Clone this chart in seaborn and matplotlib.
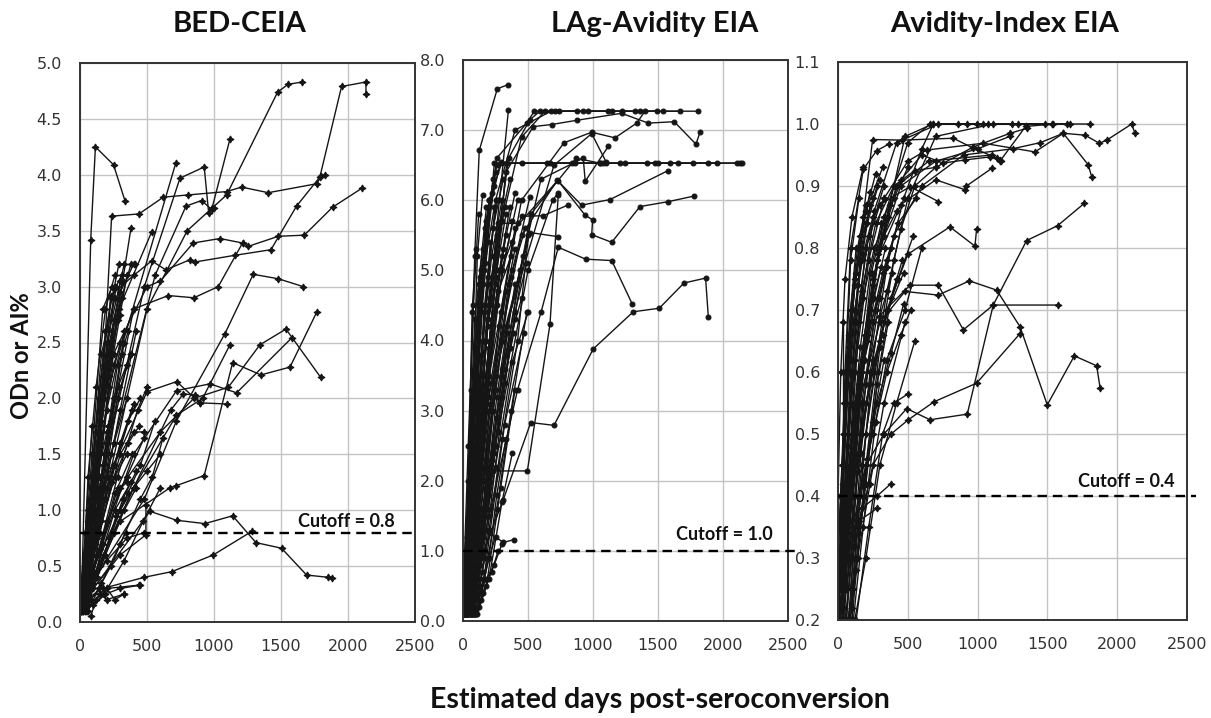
import matplotlib
matplotlib.use("Agg")
import pandas as pd
import matplotlib.pyplot as plt
import seaborn as sns
from matplotlib.ticker import MultipleLocator, FormatStrFormatter

# BED-CEIA: ODn per subject, (days post-seroconversion, value)
bed_curves = [
    [(10, 0.15), (80, 3.42), (115, 4.25), (250, 4.09), (335, 3.77)],
    [(20, 0.2), (130, 1.2), (236, 3.63), (440, 3.65), (622, 3.80), (808, 3.82), (1094, 3.85),
     (1206, 3.89), (1405, 3.84), (1766, 3.92), (1800, 3.99), (1830, 4.0)],
    [(30, 0.2), (200, 1.5), (480, 3.0), (746, 3.97), (927, 4.07), (960, 3.66), (985, 3.70), (1119, 4.32)],
    [(15, 0.2), (150, 1.0), (320, 2.5), (716, 4.11)],
    [(40, 0.3), (250, 1.6), (560, 3.1), (791, 3.72), (908, 3.77), (982, 3.69), (1000, 3.70)],
    [(30, 0.2), (200, 1.2), (500, 2.8), (800, 3.5), (1094, 3.82), (1475, 4.74), (1554, 4.81), (1659, 4.83)],
    [(25, 0.2), (140, 1.3), (229, 2.92), (400, 3.1), (535, 3.23), (640, 3.15), (820, 3.24), (858, 3.22),
     (1156, 3.28), (1425, 3.33), (1616, 3.72), (1790, 3.98), (1952, 4.79), (2134, 4.83), (2134, 4.72)],
    [(20, 0.2), (250, 2.4), (500, 3.0), (600, 3.05), (845, 3.39), (1044, 3.43), (1213, 3.39),
     (1256, 3.36), (1480, 3.45), (1674, 3.46), (1885, 3.71), (2104, 3.88)],
    [(40, 0.3), (200, 1.6), (400, 2.8), (659, 2.92), (850, 2.90), (1032, 3.0), (1213, 3.39)],
    [(60, 0.3), (480, 1.1), (720, 1.8), (1082, 2.58), (1293, 3.11), (1480, 3.07), (1666, 3.0)],
    [(20, 0.2), (180, 2.0), (380, 3.52)],
    [(30, 0.3), (160, 1.8), (290, 2.8), (535, 3.49)],
    [(30, 0.2), (300, 0.9), (671, 1.2), (720, 1.22), (927, 1.31), (1139, 2.32), (1350, 2.21),
     (1567, 2.28), (1766, 2.77)],
    [(40, 0.3), (300, 1.2), (600, 1.7), (850, 2.0), (1107, 2.10), (1343, 2.48), (1537, 2.62), (1795, 2.19)],
    [(50, 0.3), (400, 1.5), (721, 2.07), (970, 2.13), (1169, 2.05), (1579, 2.54)],
    [(20, 0.2), (250, 1.4), (500, 2.06), (721, 2.15), (895, 1.96), (1099, 1.95)],
    [(30, 0.3), (300, 1.0), (720, 1.85), (915, 2.0), (1119, 2.48)],
    [(40, 0.25), (400, 1.2), (680, 1.9), (771, 2.04), (858, 2.03), (895, 1.96)],
    [(100, 0.3), (522, 0.99), (721, 0.91), (932, 0.88), (1139, 0.95), (1313, 0.71), (1504, 0.66),
     (1691, 0.42), (1850, 0.40), (1880, 0.39)],
    [(40, 0.2), (170, 0.3), (480, 0.4), (684, 0.45), (995, 0.6), (1281, 0.81)],
    [(60, 0.2), (200, 0.3), (444, 0.33)],
    [(40, 0.1), (150, 0.25), (200, 0.2), (330, 0.25)],
    [(30, 0.2), (300, 0.6), (492, 0.78), (492, 1.05)],
    [(0, 0.1), (60, 0.4), (200, 2.5), (330, 3.2)],
    [(10, 0.15), (70, 0.6), (180, 2.0), (300, 3.05)],
    [(20, 0.1), (90, 0.8), (220, 2.2), (350, 3.1)],
    [(5, 0.2), (50, 0.5), (150, 1.7), (280, 2.7)],
    [(15, 0.1), (100, 1.1), (240, 2.6), (380, 3.2), (410, 3.2)],
    [(0, 0.15), (80, 1.2), (160, 2.4), (260, 2.9)],
    [(30, 0.2), (120, 1.3), (250, 2.3), (400, 2.8)],
    [(10, 0.1), (60, 0.3), (170, 1.4), (310, 2.4)],
    [(25, 0.12), (110, 0.7), (230, 1.8), (330, 2.5)],
    [(0, 0.2), (40, 0.8), (90, 1.75), (210, 1.75)],
    [(40, 0.1), (140, 0.9), (300, 1.9), (420, 2.6)],
    [(20, 0.2), (90, 0.5), (200, 1.2), (360, 1.8), (450, 2.0)],
    [(10, 0.1), (130, 0.6), (280, 1.3), (430, 1.9), (500, 2.1)],
    [(50, 0.15), (150, 0.5), (300, 1.0), (450, 1.4), (560, 1.8)],
    [(0, 0.1), (70, 0.3), (200, 0.9), (350, 1.3), (480, 1.65)],
    [(30, 0.2), (100, 0.4), (250, 0.8), (400, 1.2), (500, 1.35), (600, 1.5)],
    [(60, 0.1), (160, 0.35), (300, 0.7), (450, 1.1), (540, 1.3), (620, 1.65)],
    [(15, 0.25), (120, 0.45), (260, 1.0), (380, 1.25)],
    [(45, 0.1), (180, 0.25), (330, 0.55), (470, 0.9), (600, 1.2)],
    [(0, 0.12), (50, 0.25), (150, 0.65), (260, 1.15), (350, 1.25)],
    [(70, 0.2), (190, 0.6), (330, 1.0), (420, 1.2)],
    [(20, 0.1), (140, 0.3), (230, 0.5), (340, 0.8)],
    [(80, 0.05), (120, 0.2), (200, 0.3), (260, 0.2), (330, 0.25)],
    [(100, 0.15), (190, 0.25), (300, 0.3), (450, 0.33)],
    [(10, 0.3), (60, 1.0), (130, 1.3), (250, 1.4)],
    [(0, 0.1), (90, 1.5), (170, 2.8), (240, 3.0)],
    [(35, 0.2), (150, 1.9), (260, 3.0)],
    [(5, 0.1), (110, 1.0), (280, 2.0), (380, 2.4)],
    [(40, 0.2), (100, 0.6), (300, 1.5), (400, 1.7), (480, 1.7)],
    [(60, 0.3), (200, 0.55), (350, 0.75), (480, 0.8)],
    [(0, 0.1), (50, 0.6), (140, 2.0), (230, 2.9), (310, 3.1)],
    [(10, 0.2), (80, 1.0), (170, 2.2), (270, 3.0)],
    [(20, 0.15), (100, 1.5), (190, 2.6), (290, 3.2)],
    [(5, 0.3), (70, 0.9), (150, 1.9), (250, 2.7), (320, 3.05)],
    [(40, 0.2), (120, 1.4), (210, 2.3), (310, 2.9)],
    [(0, 0.2), (60, 0.9), (130, 1.6), (210, 2.4), (300, 2.75)],
    [(15, 0.1), (90, 0.7), (180, 1.5), (280, 2.3), (360, 2.6)],
    [(30, 0.3), (110, 1.0), (200, 1.9), (330, 2.6)],
    [(50, 0.2), (140, 1.1), (250, 2.0), (380, 2.4)],
    [(0, 0.15), (40, 0.5), (110, 1.2), (200, 1.7), (290, 2.1)],
    [(25, 0.1), (120, 0.9), (230, 1.5), (350, 2.0)],
    [(60, 0.15), (150, 0.8), (260, 1.4), (390, 1.9)],
    [(10, 0.2), (90, 0.6), (190, 1.1), (300, 1.6), (400, 1.95)],
    [(35, 0.25), (130, 0.75), (240, 1.25), (360, 1.6), (440, 1.75)],
    [(70, 0.2), (170, 0.7), (280, 1.2), (390, 1.5)],
    [(5, 0.1), (80, 0.45), (160, 0.9), (260, 1.3), (350, 1.5)],
    [(45, 0.15), (130, 0.4), (220, 0.75), (320, 1.1), (420, 1.35)],
    [(20, 0.3), (60, 1.3), (120, 2.1), (190, 2.8), (260, 3.1)],
    [(0, 0.1), (30, 0.35), (70, 1.0), (120, 1.7), (180, 2.3)],
    [(55, 0.1), (100, 0.8), (160, 1.6), (220, 2.1), (300, 2.5)],
    [(15, 0.2), (140, 1.7), (220, 2.5), (300, 2.95), (400, 3.2)],
    [(80, 0.2), (180, 1.2), (280, 2.0), (350, 2.3)],
    [(30, 0.15), (90, 0.35), (180, 0.6), (270, 0.95), (360, 1.15)],
    [(0, 0.25), (120, 1.1), (200, 1.3), (290, 1.5)],
]

# LAg-Avidity EIA: ODn per subject
lag_curves = [
    [(20, 0.3), (60, 3.3), (90, 5.2), (125, 6.71), (264, 7.59), (349, 7.65)],
    [(30, 0.2), (150, 3.5), (280, 6.0), (349, 7.28)],
    [(20, 0.2), (80, 2.5), (150, 5.0), (260, 6.6), (490, 7.1), (548, 7.27), (738, 7.27), (874, 7.27),
     (1220, 7.27), (1540, 7.27), (1810, 7.27)],
    [(30, 0.2), (100, 2.0), (200, 4.5), (350, 6.6), (515, 7.15), (592, 7.27), (925, 7.27), (1144, 7.27),
     (1361, 7.27), (1669, 7.27)],
    [(40, 0.3), (150, 3.0), (300, 5.7), (450, 6.9), (631, 7.27), (964, 7.27), (1323, 7.27), (1489, 7.27)],
    [(25, 0.2), (120, 3.3), (250, 6.0), (400, 7.0), (677, 7.27), (708, 7.27), (1118, 7.27)],
    [(20, 0.2), (60, 2.0), (150, 4.5), (241, 6.53), (451, 6.53), (836, 6.53), (1079, 6.53), (1413, 6.53),
     (1656, 6.53), (1887, 6.53), (2130, 6.53)],
    [(30, 0.3), (100, 3.5), (200, 6.0), (297, 6.53), (644, 6.53), (861, 6.53), (1100, 6.53), (1476, 6.53),
     (1771, 6.53), (2105, 6.53), (2143, 6.53)],
    [(40, 0.2), (150, 3.0), (336, 6.53), (669, 6.53), (1053, 6.53), (1207, 6.53), (1246, 6.53),
     (1502, 6.53), (1592, 6.53), (1951, 6.53)],
    [(25, 0.2), (150, 3.0), (330, 6.4), (540, 7.05), (682, 7.08), (874, 7.14), (1220, 7.24), (1425, 7.1),
     (1625, 7.12), (1792, 6.80), (1823, 6.97)],
    [(40, 0.2), (200, 3.5), (450, 6.0), (777, 6.82), (990, 6.97), (1169, 6.89), (1336, 7.1), (1400, 7.27)],
    [(60, 0.3), (250, 3.5), (600, 6.3), (925, 6.60), (940, 6.27), (1118, 6.77)],
    [(50, 0.3), (300, 4.0), (700, 6.5), (990, 6.95), (1100, 6.55)],
    [(30, 0.2), (180, 3.0), (400, 5.6), (728, 6.28), (912, 5.93), (1131, 6.01), (1574, 6.42)],
    [(40, 0.3), (200, 3.2), (450, 5.5), (726, 6.29), (938, 5.79), (997, 5.72), (990, 5.51), (1144, 5.40),
     (1361, 5.91), (1579, 5.98), (1777, 6.06)],
    [(50, 0.2), (160, 1.0), (310, 1.73), (521, 2.83), (700, 2.79), (1002, 3.88), (1310, 4.41),
     (1510, 4.46), (1700, 4.82), (1866, 4.89), (1887, 4.34)],
    [(40, 0.2), (200, 1.5), (420, 3.3), (600, 4.4), (733, 5.33), (943, 5.16), (1144, 5.14), (1302, 4.52)],
    [(30, 0.2), (150, 2.0), (300, 4.0), (515, 5.54), (733, 5.48)],
    [(20, 0.1), (100, 2.0), (200, 4.5), (270, 5.67), (423, 5.67)],
    [(30, 0.2), (120, 2.5), (250, 4.8), (451, 5.77), (618, 5.78), (805, 5.93)],
    [(40, 0.2), (120, 1.2), (233, 2.14), (495, 2.14), (669, 4.23), (733, 6.08)],
    [(30, 0.1), (100, 0.6), (208, 1.25), (310, 1.12), (392, 1.16)],
    [(50, 0.2), (250, 2.5), (500, 5.0), (690, 6.0), (730, 6.1)],
    [(60, 0.3), (300, 3.5), (520, 5.8), (870, 6.6), (1050, 6.53)],
    [(20, 0.2), (200, 3.0), (380, 5.0), (515, 6.05)],
    [(10, 0.1), (60, 1.5), (120, 4.5), (200, 6.0)],
    [(20, 0.2), (80, 2.0), (160, 5.0), (250, 6.4)],
    [(0, 0.15), (50, 1.0), (100, 3.5), (180, 5.5)],
    [(30, 0.1), (90, 2.5), (150, 4.8), (230, 6.3)],
    [(15, 0.2), (70, 1.2), (140, 3.8), (220, 5.2), (300, 6.0)],
    [(40, 0.1), (100, 1.8), (180, 4.0), (280, 5.6)],
    [(5, 0.1), (60, 0.8), (130, 3.0), (210, 4.6), (320, 5.9)],
    [(25, 0.2), (80, 0.5), (150, 2.6), (260, 4.5), (380, 5.7)],
    [(50, 0.1), (110, 1.2), (200, 3.4), (300, 5.0), (420, 6.0)],
    [(10, 0.3), (70, 0.6), (160, 2.2), (280, 4.2), (400, 5.3)],
    [(60, 0.1), (130, 1.0), (230, 3.0), (350, 4.8), (480, 5.6)],
    [(80, 0.1), (150, 1.5), (250, 3.3), (370, 4.9)],
    [(20, 0.1), (90, 0.4), (200, 1.8), (320, 3.6), (460, 5.2)],
    [(40, 0.2), (120, 0.6), (240, 2.4), (360, 3.9), (500, 5.5)],
    [(90, 0.2), (170, 0.9), (300, 2.6), (420, 4.0), (520, 5.8)],
    [(70, 0.15), (160, 0.6), (260, 1.6), (370, 3.0), (490, 4.4)],
    [(100, 0.1), (200, 0.6), (300, 1.7), (380, 2.4)],
    [(30, 0.1), (100, 0.3), (180, 0.6), (240, 0.8), (300, 1.1)],
    [(60, 0.2), (150, 0.4), (220, 0.7), (270, 1.0)],
    [(0, 0.2), (40, 2.0), (90, 4.3), (150, 5.3)],
    [(10, 0.1), (40, 1.4), (80, 3.3), (110, 5.2), (151, 6.08)],
    [(5, 0.2), (30, 1.0), (70, 4.4), (100, 5.3)],
    [(20, 0.1), (100, 1.0), (200, 2.2), (330, 3.8), (450, 4.6)],
    [(50, 0.2), (140, 1.3), (260, 2.9), (390, 4.1)],
    [(0, 0.1), (60, 2.7), (130, 4.9), (240, 6.2)],
    [(15, 0.1), (80, 3.0), (170, 5.6), (290, 6.55)],
    [(35, 0.2), (90, 1.0), (200, 3.9), (310, 5.3), (400, 6.1)],
    [(75, 0.1), (140, 0.3), (210, 1.3), (320, 2.8), (470, 4.1)],
    [(110, 0.1), (180, 0.5), (290, 1.9), (400, 3.3)],
    [(45, 0.15), (110, 2.0), (180, 3.2), (270, 4.7), (370, 5.2)],
    [(0, 0.1), (25, 0.5), (60, 1.6), (90, 3.3)],
    [(60, 0.1), (90, 0.1), (120, 0.2)],
    [(90, 0.1), (120, 0.3), (160, 0.6), (200, 0.9), (250, 1.2)],
    [(30, 0.3), (150, 1.2), (250, 2.2), (380, 3.7), (500, 4.4)],
    [(10, 0.2), (100, 0.8), (200, 2.0), (300, 3.2), (400, 4.4), (490, 5.1)],
    [(0, 0.1), (30, 1.2), (70, 3.0), (120, 4.8), (180, 5.9)],
    [(20, 0.15), (60, 1.8), (110, 3.8), (170, 5.1), (240, 5.9)],
    [(10, 0.2), (50, 0.6), (100, 2.4), (150, 4.0), (210, 5.4)],
    [(40, 0.1), (80, 1.1), (130, 2.9), (190, 4.3), (260, 5.5)],
    [(0, 0.3), (40, 2.5), (80, 4.5), (120, 5.8)],
    [(30, 0.2), (70, 0.9), (120, 2.0), (180, 3.5), (250, 4.9), (330, 5.8)],
    [(60, 0.2), (100, 1.4), (150, 2.8), (220, 4.1), (300, 5.2)],
    [(15, 0.1), (55, 0.4), (110, 1.5), (170, 3.0), (240, 4.4), (330, 5.5)],
    [(50, 0.15), (90, 0.5), (140, 1.6), (210, 3.1), (290, 4.4), (380, 5.4)],
    [(70, 0.1), (110, 0.6), (170, 1.9), (240, 3.4), (330, 4.7)],
    [(5, 0.2), (45, 1.6), (95, 3.6), (150, 5.0), (220, 6.1)],
    [(25, 0.1), (75, 1.4), (125, 3.2), (190, 4.9), (260, 6.0)],
    [(35, 0.15), (85, 0.8), (140, 2.2), (200, 3.7), (280, 5.0), (360, 5.9)],
    [(80, 0.2), (130, 0.8), (190, 2.0), (260, 3.2), (340, 4.2), (440, 5.0)],
    [(0, 0.1), (20, 0.8), (50, 2.3), (90, 3.9), (140, 5.0)],
    [(45, 0.1), (95, 0.3), (150, 1.0), (220, 2.3), (300, 3.6), (400, 4.8)],
    [(100, 0.15), (150, 0.7), (210, 1.6), (280, 2.7), (360, 3.9)],
    [(10, 0.15), (65, 2.2), (115, 4.1), (175, 5.7), (260, 6.5)],
    [(55, 0.2), (105, 2.6), (160, 4.4), (230, 5.6), (310, 6.3)],
    [(20, 0.3), (80, 1.7), (140, 3.5), (210, 4.8), (290, 5.7), (360, 6.3)],
    [(65, 0.1), (120, 0.5), (180, 1.3), (250, 2.5), (320, 3.4), (400, 4.3)],
    [(0, 0.2), (35, 0.6), (80, 1.9), (130, 3.1), (190, 4.2), (260, 5.0)],
    [(30, 0.1), (70, 0.3), (130, 0.9), (190, 1.8), (260, 2.9), (340, 4.1)],
    [(85, 0.1), (140, 0.4), (200, 0.9), (260, 1.8), (330, 2.6)],
]

# Avidity-Index EIA: AI per subject
ai_curves = [
    [(0, 0.2), (40, 0.5), (90, 0.78), (150, 0.88)],
    [(10, 0.25), (50, 0.6), (90, 0.8), (181, 0.927), (277, 0.957), (368, 0.968)],
    [(5, 0.2), (60, 0.55), (120, 0.75), (200, 0.86), (320, 0.93)],
    [(20, 0.3), (70, 0.5), (130, 0.68), (220, 0.82), (330, 0.9)],
    [(0, 0.3), (30, 0.45), (80, 0.66), (150, 0.8), (250, 0.88)],
    [(40, 0.2), (90, 0.4), (150, 0.6), (250, 0.75), (360, 0.85)],
    [(60, 0.2), (110, 0.35), (170, 0.55), (270, 0.7), (380, 0.8)],
    [(80, 0.2), (120, 0.3), (200, 0.5), (300, 0.65), (420, 0.75)],
    [(30, 0.2), (100, 0.45), (180, 0.62), (280, 0.78), (480, 0.98), (680, 1.0), (922, 1.0), (1244, 1.0)],
    [(50, 0.25), (130, 0.5), (230, 0.7), (330, 0.85), (500, 0.97), (659, 1.0), (862, 1.0), (1041, 1.0),
     (1483, 1.0)],
    [(15, 0.2), (70, 0.4), (150, 0.68), (260, 0.86), (420, 0.97), (718, 1.0), (1077, 1.0), (1531, 1.0),
     (1805, 1.0)],
    [(90, 0.2), (160, 0.4), (250, 0.62), (350, 0.77), (470, 0.88), (600, 0.96), (683, 1.0), (993, 1.0),
     (1292, 1.0), (1638, 1.0)],
    [(100, 0.2), (200, 0.45), (300, 0.64), (400, 0.78), (500, 0.88), (700, 0.98), (1112, 1.0), (1662, 1.0)],
    [(0, 0.4), (20, 0.6), (50, 0.75), (100, 0.85), (180, 0.93)],
    [(110, 0.2), (180, 0.35), (270, 0.52), (350, 0.62), (480, 0.7), (600, 0.8)],
    [(120, 0.2), (200, 0.3), (300, 0.45), (420, 0.55), (550, 0.65)],
    [(70, 0.2), (140, 0.3), (230, 0.42), (330, 0.55), (480, 0.68)],
    [(50, 0.2), (100, 0.3), (170, 0.38), (280, 0.4), (380, 0.42)],
    [(0, 0.2), (60, 0.3), (150, 0.36), (280, 0.38)],
    [(38, 0.2), (38, 0.68)],
    [(20, 0.22), (100, 0.4), (200, 0.65), (300, 0.8), (400, 0.88), (500, 0.93)],
    [(60, 0.3), (140, 0.55), (240, 0.76), (330, 0.85), (450, 0.91), (600, 0.95), (754, 0.937),
     (910, 0.942), (1089, 0.947), (1160, 0.942)],
    [(25, 0.3), (90, 0.55), (170, 0.73), (270, 0.84), (400, 0.9), (550, 0.925), (700, 0.93),
     (969, 0.963), (1232, 0.985), (1351, 0.993)],
    [(40, 0.3), (120, 0.6), (220, 0.78), (330, 0.88), (500, 0.94), (635, 0.958), (1041, 0.969),
     (1411, 0.955), (1614, 0.985), (1769, 0.982), (1872, 0.969), (1925, 0.974), (2104, 1.0), (2127, 0.985)],
    [(80, 0.3), (180, 0.55), (300, 0.72), (400, 0.82), (600, 0.9), (900, 0.95), (1250, 0.96),
     (1450, 0.97), (1614, 0.985), (1793, 0.934), (1817, 0.915)],
    [(20, 0.25), (100, 0.6), (180, 0.85), (248, 0.975), (456, 0.974), (826, 0.977), (969, 0.961),
     (1140, 0.945), (1170, 0.94)],
    [(60, 0.3), (200, 0.45), (330, 0.5), (492, 0.541), (659, 0.523), (926, 0.532), (1112, 0.708),
     (1351, 0.812), (1573, 0.836), (1764, 0.872)],
    [(100, 0.3), (250, 0.45), (380, 0.5), (504, 0.523), (688, 0.552), (993, 0.582), (1304, 0.662)],
    [(50, 0.3), (150, 0.55), (300, 0.68), (480, 0.73), (718, 0.724), (941, 0.747), (1137, 0.732),
     (1304, 0.673), (1499, 0.547), (1693, 0.626), (1853, 0.61), (1877, 0.575)],
    [(30, 0.3), (120, 0.55), (250, 0.68), (516, 0.74), (718, 0.74), (898, 0.668), (1112, 0.708),
     (1578, 0.708)],
    [(70, 0.3), (200, 0.55), (350, 0.7), (500, 0.79), (802, 0.834), (981, 0.803), (993, 0.831)],
    [(40, 0.3), (150, 0.6), (280, 0.78), (450, 0.87), (700, 0.91), (910, 0.894), (920, 0.9), (1105, 0.929)],
    [(20, 0.3), (100, 0.6), (200, 0.8), (300, 0.87), (516, 0.899), (718, 0.875)],
    [(10, 0.2), (50, 0.35), (100, 0.6), (160, 0.78), (230, 0.87)],
    [(130, 0.2), (220, 0.35), (320, 0.5), (400, 0.55), (504, 0.565)],
    [(60, 0.3), (170, 0.6), (300, 0.8), (450, 0.9), (700, 0.94), (1000, 0.96), (1232, 0.98)],
    [(50, 0.25), (160, 0.58), (290, 0.8), (420, 0.9), (650, 0.94), (1100, 0.95), (1160, 0.94),
     (1344, 0.996), (1540, 1.0)],
    [(0, 0.25), (30, 0.4), (70, 0.6), (120, 0.74), (200, 0.84), (280, 0.9)],
    [(90, 0.25), (170, 0.45), (260, 0.6), (350, 0.73), (450, 0.83), (550, 0.9), (700, 0.93)],
    [(0, 0.2), (20, 0.3), (45, 0.5), (90, 0.7), (130, 0.8)],
    [(0, 0.2), (25, 0.35), (60, 0.55), (100, 0.7), (160, 0.82), (230, 0.89)],
    [(15, 0.25), (55, 0.45), (95, 0.62), (140, 0.74), (210, 0.84), (300, 0.91)],
    [(30, 0.2), (70, 0.38), (110, 0.52), (160, 0.64), (230, 0.76), (310, 0.84)],
    [(45, 0.22), (85, 0.36), (130, 0.5), (190, 0.62), (260, 0.72), (340, 0.8)],
    [(0, 0.3), (40, 0.5), (80, 0.64), (130, 0.76), (200, 0.86), (270, 0.92)],
    [(60, 0.2), (95, 0.3), (140, 0.44), (200, 0.58), (270, 0.7), (350, 0.78)],
    [(20, 0.2), (60, 0.32), (105, 0.46), (160, 0.6), (230, 0.7), (310, 0.77)],
    [(10, 0.35), (45, 0.55), (90, 0.7), (140, 0.8), (200, 0.87)],
    [(75, 0.2), (115, 0.32), (165, 0.47), (230, 0.6), (300, 0.69), (390, 0.76)],
    [(35, 0.3), (75, 0.48), (120, 0.62), (180, 0.72), (260, 0.8), (350, 0.85)],
    [(5, 0.25), (35, 0.42), (75, 0.58), (120, 0.7), (180, 0.79), (250, 0.85), (330, 0.88)],
    [(50, 0.3), (90, 0.42), (135, 0.55), (190, 0.66), (250, 0.74), (330, 0.82), (420, 0.86)],
    [(85, 0.2), (130, 0.28), (185, 0.4), (250, 0.52), (330, 0.62)],
    [(25, 0.28), (65, 0.4), (105, 0.5), (150, 0.58), (210, 0.66), (290, 0.72)],
    [(100, 0.22), (150, 0.34), (210, 0.46), (280, 0.58), (360, 0.68)],
    [(0, 0.22), (15, 0.3), (40, 0.45), (70, 0.58), (110, 0.68), (170, 0.78)],
    [(65, 0.25), (110, 0.4), (160, 0.55), (220, 0.68), (290, 0.79), (370, 0.87)],
    [(40, 0.2), (80, 0.3), (125, 0.4), (175, 0.5), (240, 0.6), (320, 0.66)],
    [(60, 0.25), (150, 0.4), (250, 0.5), (350, 0.6), (450, 0.66), (520, 0.7)],
    [(90, 0.3), (180, 0.42), (280, 0.55), (380, 0.63), (470, 0.71)],
    [(30, 0.25), (130, 0.45), (230, 0.58), (330, 0.68), (430, 0.75), (540, 0.82)],
    [(110, 0.25), (200, 0.42), (290, 0.6), (380, 0.72), (460, 0.78)],
    [(70, 0.35), (160, 0.5), (260, 0.62), (360, 0.7), (470, 0.76)],
    [(20, 0.3), (100, 0.5), (210, 0.65), (320, 0.76), (430, 0.84), (560, 0.88)],
]

panel_titles = ["BED-CEIA", "LAg-Avidity EIA", "Avidity-Index EIA"]
cutoffs = [0.8, 1.0, 0.4]
cutoff_labels = ["Cutoff = 0.8", "Cutoff = 1.0", "Cutoff = 0.4"]
y_ranges = [(0.0, 5.0), (0.0, 8.0), (0.2, 1.1)]
y_steps = [0.5, 1.0, 0.1]

sns.set_style("white")
plt.rcParams["font.family"] = ["DejaVu Sans"]


def to_frame(curves):
    rows = []
    for subject, curve in enumerate(curves):
        for day, value in curve:
            rows.append((subject, day, value))
    return pd.DataFrame(rows, columns=["subject", "days", "value"])


fig = plt.figure(figsize=(12.11, 7.18), dpi=100)
boxes = [
    [80 / 1211, 1 - 622 / 718, 335 / 1211, 559 / 718],
    [463 / 1211, 1 - 621 / 718, 325 / 1211, 561 / 718],
    [838 / 1211, 1 - 620 / 718, 349 / 1211, 558 / 718],
]
markers = [(4, 1, 0), "o", (4, 1, 0)]
marker_sizes = [5, 3.5, 5]
line_ext = [1.0, 1.04, 1.025]
label_pos = [(2350, 0.90), (2386, 1.23), (2414, 0.423)]
title_x = [240, 655, 1005]

for i, curves in enumerate([bed_curves, lag_curves, ai_curves]):
    ax = fig.add_axes(boxes[i])
    df = to_frame(curves)
    sns.lineplot(data=df, x="days", y="value", units="subject", estimator=None, sort=False,
                 color="#151515", lw=1.0, marker=markers[i], markersize=marker_sizes[i],
                 markeredgecolor="#151515", markerfacecolor="#151515", markeredgewidth=0.8,
                 legend=False, ax=ax)

    ax.set_xlim(0, 2500)
    ax.set_ylim(*y_ranges[i])
    ax.xaxis.set_major_locator(MultipleLocator(500))
    ax.xaxis.set_minor_locator(MultipleLocator(100))
    ax.yaxis.set_major_locator(MultipleLocator(y_steps[i]))
    ax.yaxis.set_minor_locator(MultipleLocator(y_steps[i] / 5))
    ax.yaxis.set_major_formatter(FormatStrFormatter("%.1f"))
    ax.grid(True, which="major", color="#c4c4c4", lw=1.0)
    ax.set_axisbelow(True)
    for sp in ax.spines.values():
        sp.set_color("#333333")
        sp.set_linewidth(1.4)
    ax.tick_params(which="major", direction="out", length=7, width=1.3, color="#333333",
                   labelsize=11.5, labelcolor="#333333", pad=5)
    ax.tick_params(which="minor", direction="out", length=5, width=1.1, color="#333333")
    ax.tick_params(axis="y", which="major", pad=6)
    ax.set_xlabel("")
    ax.set_ylabel("")

    ax.axhline(cutoffs[i], xmin=0, xmax=line_ext[i], color="black", lw=1.7,
               ls=(0, (4, 2.5)), clip_on=False, zorder=4)
    ax.text(label_pos[i][0], label_pos[i][1], cutoff_labels[i], ha="right", va="center",
            fontsize=13, fontweight="bold", family="Lato", color="#111111")

    fig.text(title_x[i] / 1211, 1 - 24 / 718, panel_titles[i], ha="center", va="center",
             fontsize=21, fontweight="bold", family="Lato", color="#111111")

fig.text(660 / 1211, 1 - 700 / 718, "Estimated days post-seroconversion", ha="center", va="center",
         fontsize=20.5, fontweight="bold", family="Lato", color="#111111")
fig.text(22 / 1211, 0.505, "ODn or AI%", ha="center", va="center", rotation=90,
         fontsize=17, fontweight="bold", family="Lato", color="#111111")

fig.savefig("out.png", dpi=100, facecolor="white")
